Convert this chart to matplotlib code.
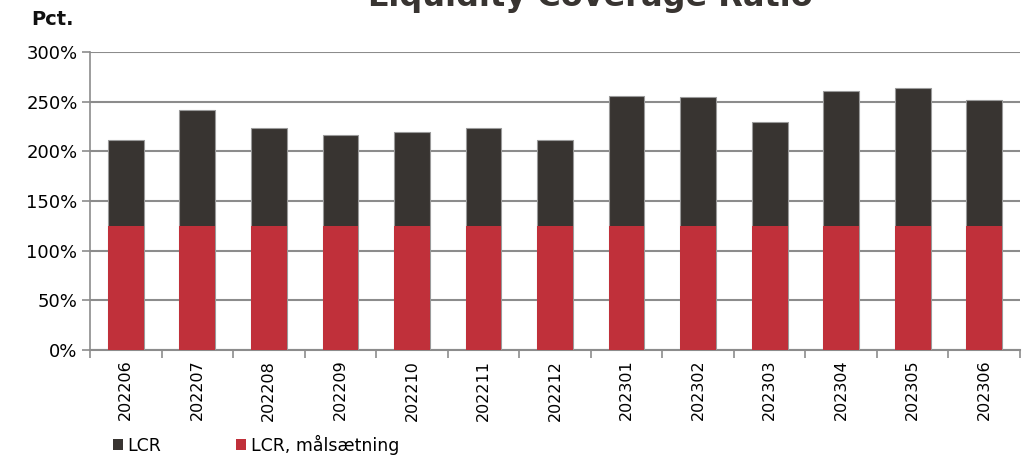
import matplotlib
matplotlib.use('Agg')
import matplotlib.pyplot as plt
from matplotlib.patches import Patch
from matplotlib.ticker import FixedLocator, PercentFormatter

months = ["202206", "202207", "202208", "202209", "202210", "202211", "202212",
          "202301", "202302", "202303", "202304", "202305", "202306"]
lcr = [211, 242, 223, 216, 219, 223, 211, 256, 255, 230, 261, 264, 252]
target = [125, 125, 125, 125, 125, 125, 125, 125, 125, 125, 125, 125, 125]

dark = '#383431'
red = '#c0303a'
grid = '#8c8c8c'

plt.rcParams['font.family'] = ['DejaVu Sans']

fig = plt.figure(figsize=(10.25, 4.57), dpi=100)
ax = fig.add_axes([90/1025, 1-350/457, 930/1025, 298/457])

x = range(len(months))
ax.bar(x, lcr, width=0.5, color=dark, edgecolor='#9a9a9a', linewidth=0.8, zorder=3)
ax.bar(x, target, width=0.5, color=red, linewidth=0, zorder=4)

ax.set_xlim(-0.5, len(months) - 0.5)
ax.set_ylim(0, 300)
ax.set_yticks(range(0, 301, 50))
ax.yaxis.set_major_formatter(PercentFormatter(decimals=0))
ax.grid(axis='y', color=grid, linewidth=1.5, zorder=1)
ax.set_axisbelow(True)

ax.set_xticks(list(x))
ax.set_xticklabels(months, rotation=90, fontsize=11.5)
ax.tick_params(axis='x', length=0, pad=7)
ax.xaxis.set_minor_locator(FixedLocator([i - 0.5 for i in range(len(months) + 1)]))
ax.tick_params(axis='x', which='minor', length=6, color=grid, width=1.2)
ax.tick_params(axis='y', length=6, color=grid, width=1.2, labelsize=13, pad=3)

for s in ['top', 'right']:
    ax.spines[s].set_visible(False)
ax.spines['left'].set_color(grid)
ax.spines['left'].set_linewidth(1.2)
ax.spines['bottom'].set_color(grid)
ax.spines['bottom'].set_linewidth(1.5)

# title sits mostly above the top edge, as in the source
fig.text(590/1025, 1-6/457, "Liquidity Coverage Ratio", ha='center', va='baseline',
         fontsize=23, fontweight='bold', color=dark)
fig.text(31/1025, 1-25/457, "Pct.", ha='left', va='baseline', fontsize=14,
         fontweight='bold', color='#111111')

handles = [Patch(facecolor=dark, label="LCR"), Patch(facecolor=red, label="LCR, målsætning")]
fig.legend(handles=handles, loc='lower left', bbox_to_anchor=(97/1025, -0.03), ncol=2,
           frameon=False, fontsize=12.5, handlelength=0.6, handleheight=0.6,
           handletextpad=0.25, columnspacing=4.3)

fig.savefig('out.png', dpi=100)
